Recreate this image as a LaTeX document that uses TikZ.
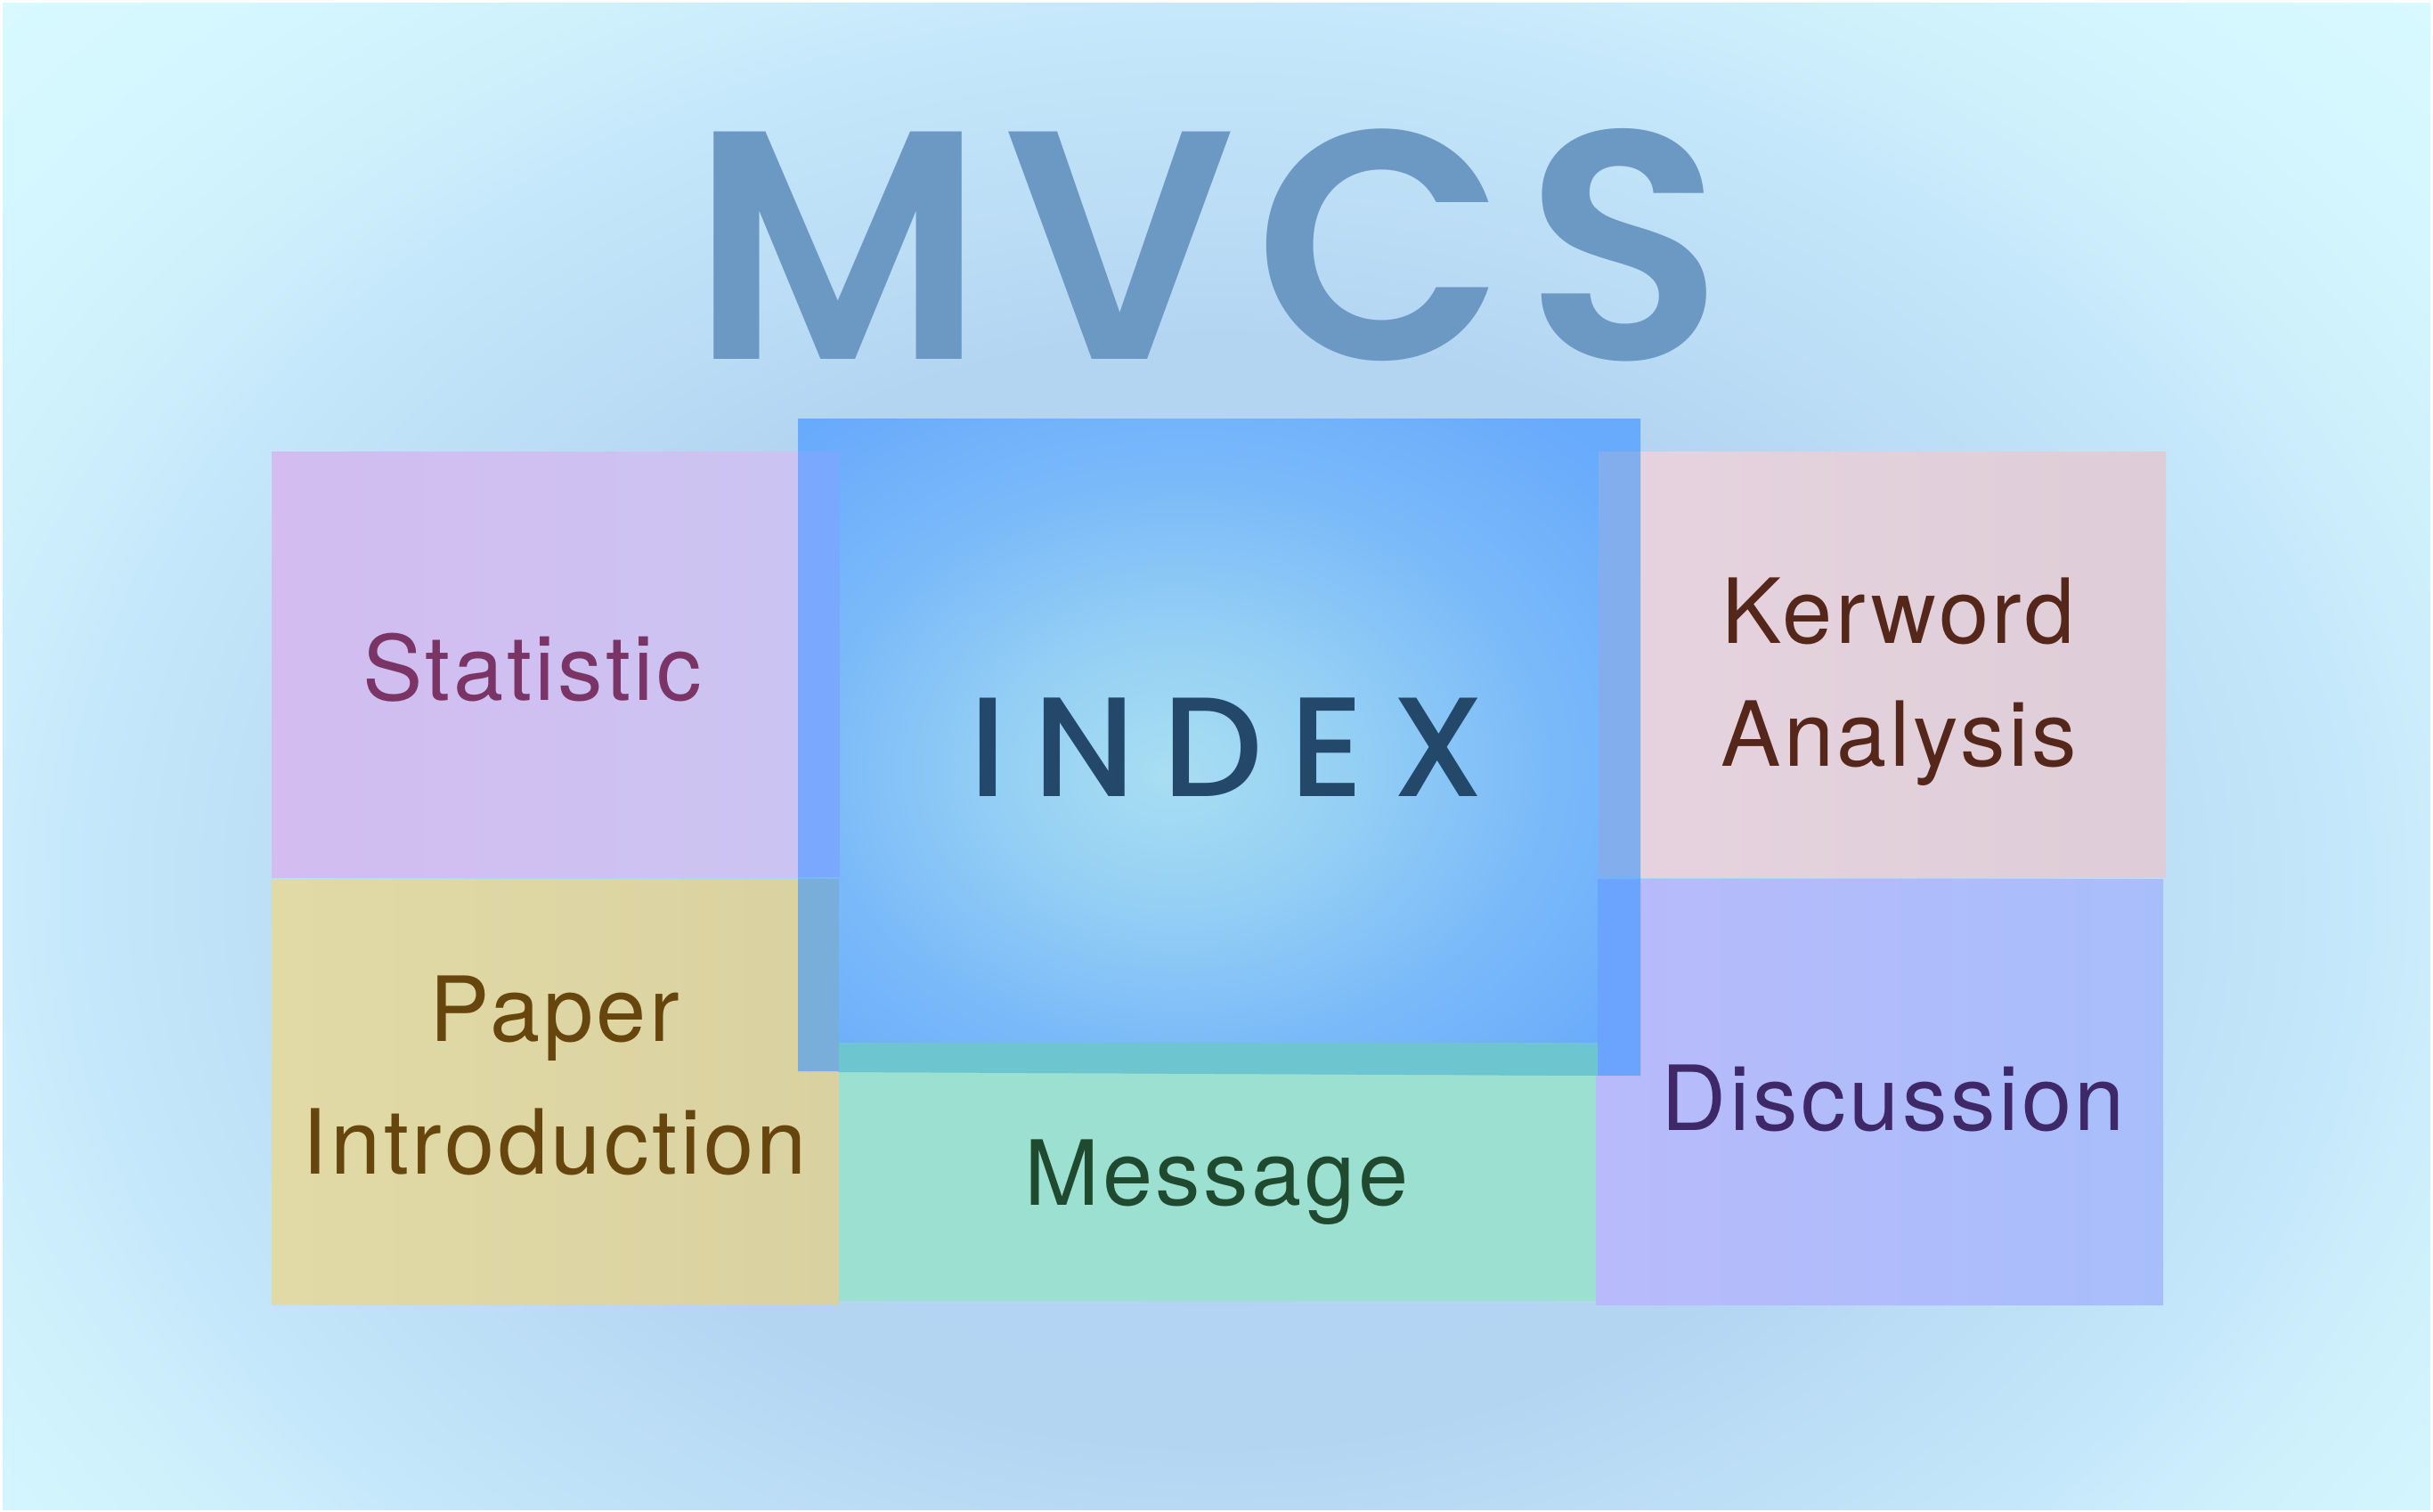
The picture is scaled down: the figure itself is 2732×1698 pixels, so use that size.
\documentclass[tikz,border=0pt]{standalone}
\usepackage{fontspec}
\setmainfont{TeX Gyre Heros}[LetterSpace=3.5]
\newfontfamily\titlefont{Poppins SemiBold}[LetterSpace=6]
\newfontfamily\indexfont{Poppins Medium}[LetterSpace=19]

% page and background
\definecolor{bgA}{HTML}{B0D1F0}
\definecolor{bgB}{HTML}{B4D5F2}
\definecolor{bgC}{HTML}{BDDFF6}
\definecolor{bgD}{HTML}{C6E8FB}
\definecolor{bgE}{HTML}{CEF0FC}
\definecolor{bgF}{HTML}{D4F6FE}
\definecolor{bgG}{HTML}{D8FAFF}
% central block
\definecolor{idxin}{HTML}{A9DEF2}
\definecolor{idxa}{HTML}{95D0F4}
\definecolor{idxb}{HTML}{7AB9F9}
\definecolor{idxout}{HTML}{68AAFC}
% side blocks
\definecolor{statL}{HTML}{D9B6EE}
\definecolor{statR}{HTML}{CAC5F2}
\definecolor{paperL}{HTML}{E1DAA6}
\definecolor{paperR}{HTML}{DAD1A0}
\definecolor{kwL}{HTML}{E6D3DF}
\definecolor{kwR}{HTML}{DECDD8}
\definecolor{discL}{HTML}{B8BAFB}
\definecolor{discR}{HTML}{A8BEFB}
\definecolor{msgC}{HTML}{9BE0D0}
% where blocks overlap the central block
\definecolor{ovStat}{HTML}{7AA8FF}
\definecolor{ovPaper}{HTML}{7AAEDA}
\definecolor{ovMsg}{HTML}{6CC5CF}
\definecolor{ovKw}{HTML}{82AEEE}
\definecolor{ovDisc}{HTML}{6AA4FF}
% text colours
\definecolor{titleC}{HTML}{6B99C4}
\definecolor{indexC}{HTML}{23486A}
\definecolor{statT}{HTML}{7A3566}
\definecolor{kwT}{HTML}{55261A}
\definecolor{paperT}{HTML}{66460D}
\definecolor{msgT}{HTML}{1F4A2F}
\definecolor{discT}{HTML}{3E2868}

% backdrop glow: 50bp is the unit ellipse, stretched below
\pgfdeclareradialshading{bgglow}{\pgfpoint{0bp}{0bp}}{%
  color(0bp)=(bgA); color(27bp)=(bgB); color(35bp)=(bgC); color(43bp)=(bgD);
  color(48bp)=(bgE); color(55bp)=(bgF); color(66bp)=(bgG)}
\pgfdeclareradialshading{indexglow}{\pgfpoint{-3bp}{-2bp}}{%
  color(0bp)=(idxin); color(10bp)=(idxa); color(22bp)=(idxb); color(34bp)=(idxout); color(80bp)=(idxout)}

\tikzset{
  lbl/.style={inner sep=0pt, anchor=base, align=center,
              font=\fontsize{50.5}{69}\selectfont},
}

\begin{document}
\begin{tikzpicture}[x=0.5pt,y=-0.5pt]
\useasboundingbox (0,0) rectangle (2732,1698);

% backdrop
\fill[white] (0,0) rectangle (2732,1698);
\begin{scope}
  \clip (3,3) rectangle (2729,1695);
  \fill[bgG] (3,3) rectangle (2729,1695);
  % glow centred at (1366,1000), half-axes 1500 x 1150
  \pgflowlevel{\pgftransformcm{14.94}{0}{0}{11.46}{\pgfpoint{683pt}{-500pt}}}
  \pgftext{\pgfuseshading{bgglow}}
\end{scope}

% surrounding blocks
\shade[left color=statL, right color=statR] (305,507) rectangle (943,985);
\shade[left color=paperL, right color=paperR] (305,987) rectangle (942,1465);
\fill[msgC] (942,1171) rectangle (1794,1461);
\shade[left color=kwL, right color=kwR] (1795,507) rectangle (2432,985);
\shade[left color=discL, right color=discR] (1792,987) rectangle (2429,1465);

% central block
\shade[shading=indexglow] (896,470) -- (1842,470) -- (1842,1208) -- (896,1203) -- cycle;

% overlapping strips
\fill[ovStat] (896,507) rectangle (943,985);
\fill[ovPaper] (896,987) rectangle (942,1203);
\fill[ovMsg] (942,1171) -- (1794,1171) -- (1794,1208) -- (942,1204) -- cycle;
\fill[ovKw] (1795,507) rectangle (1842,985);
\fill[ovDisc] (1794,987) rectangle (1842,1208);

% title and labels (multi-line labels sit on their last baseline)
\node[inner sep=0pt, anchor=base, text=titleC,
      font=\titlefont\fontsize{183}{183}\selectfont] (title) at (1356,403) {MVCS};
\node[inner sep=0pt, anchor=base, text=indexC,
      font=\indexfont\fontsize{79.5}{80}\selectfont] (index) at (1378,894) {INDEX};
\node[lbl, text=statT] (stat) at (598,786) {Statistic};
\node[lbl, text=kwT] (kw) at (2132,860) {Kerword\\Analysis};
\node[lbl, text=paperT, font=\fontsize{50.5}{74.5}\selectfont] (paper) at (623,1318) {Paper\\Introduction};
\node[lbl, text=msgT] (msg) at (1366,1353) {Message};
\node[lbl, text=discT] (disc) at (2126,1269) {Discussion};
\end{tikzpicture}
\end{document}
